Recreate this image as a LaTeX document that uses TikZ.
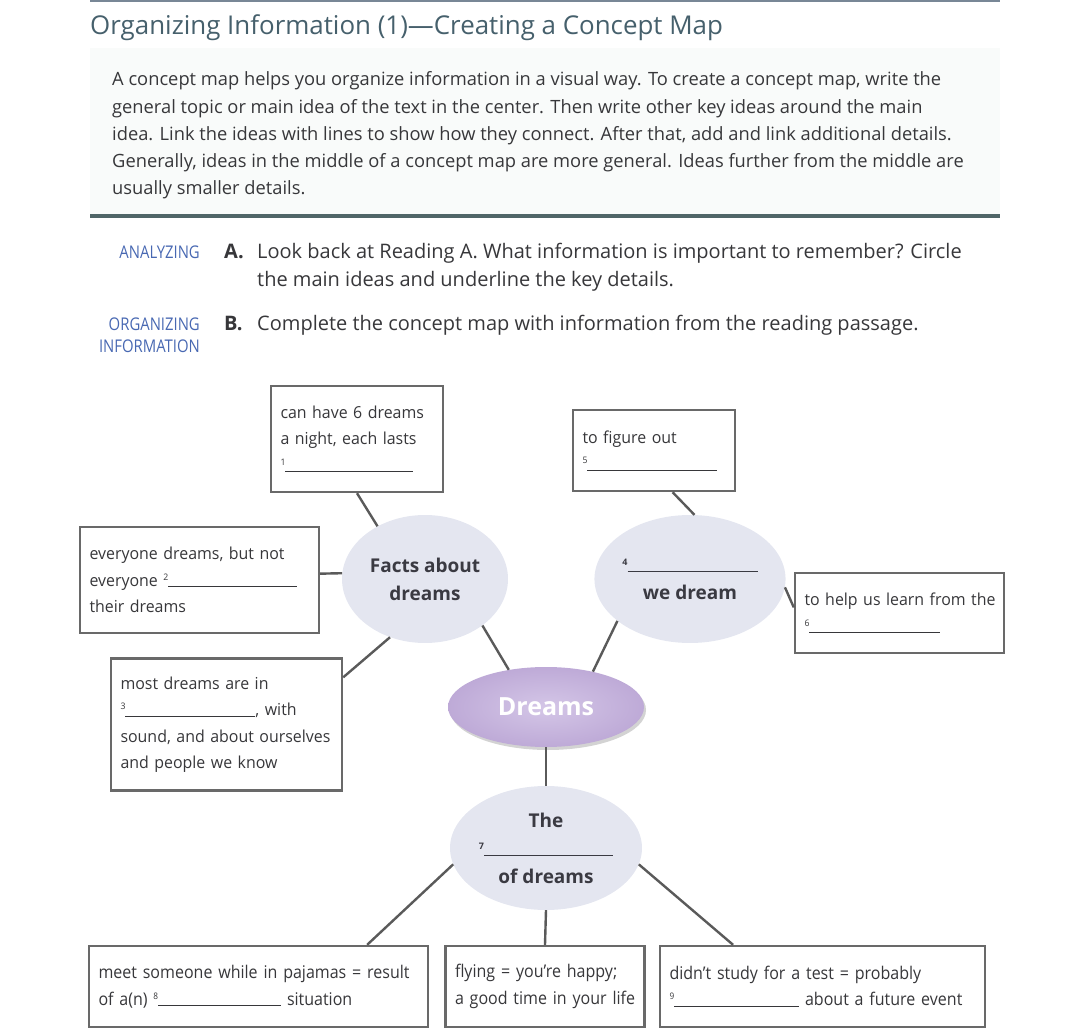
\documentclass[tikz,border=0pt]{standalone}
\usepackage{fontspec}
\setmainfont{Open Sans}
\newfontfamily\boxfont[FakeStretch=0.965]{Open Sans}
\newfontfamily\condfont[FakeStretch=0.915]{Open Sans}
\newfontfamily\capsfont[FakeStretch=0.85]{Open Sans}
\usetikzlibrary{shapes.geometric, shadows, math}
\definecolor{titleteal}{RGB}{70,96,108}
\definecolor{bodygray}{RGB}{55,55,58}
\definecolor{labelblue}{RGB}{72,104,178}
\definecolor{ruleslate}{RGB}{80,102,104}
\definecolor{toprule}{RGB}{120,135,150}
\definecolor{paperbg}{RGB}{249,251,250}
\definecolor{boxgray}{RGB}{105,105,105}
\definecolor{linkgray}{RGB}{90,90,90}
\definecolor{ideablue}{RGB}{228,230,240}
\definecolor{ideatext}{RGB}{58,58,66}
\definecolor{lilacin}{RGB}{212,198,231}
\definecolor{lilacout}{RGB}{190,170,215}

% numbered answer line
\newcommand{\blank}[2]{\raisebox{6pt}{\fontsize{9}{9}\selectfont #1}\rule[-1pt]{#2}{0.9pt}}
% one line that must not break
\newcommand{\oneline}[1]{\mbox{#1}}

\begin{document}
\begin{tikzpicture}[x=1pt, y=-1pt,
  infobox/.style={draw=boxgray, line width=2.4pt, fill=white, inner xsep=9.5pt, inner ysep=0pt,
    align=left, text=bodygray, font=\boxfont\fontsize{16.5}{26.5}\selectfont},
  lowbox/.style={infobox, font=\condfont\fontsize{17.5}{26.5}\selectfont},
  idea/.style={ellipse, fill=ideablue, inner sep=0pt, align=center, text=ideatext,
    font=\bfseries\fontsize{19}{28}\selectfont},
  link/.style={draw=linkgray, line width=2.4pt},
  para/.style={anchor=base west, inner sep=0pt, text=bodygray, font=\fontsize{18.3}{18.3}\selectfont},
  task/.style={anchor=base west, inner sep=0pt, text=bodygray, font=\fontsize{20}{20}\selectfont},
  tag/.style={anchor=base east, inner sep=0pt, text=labelblue, font=\capsfont\fontsize{17.5}{17.5}\selectfont}]
\tikzmath{
\lh=27.25;
\tw=9.5*2;
}
\useasboundingbox (0,0) rectangle (1080,1032);

%the header:
\fill[paperbg] (90,48) rectangle (1000,214);
\draw[toprule, line width=2pt] (90,1) -- (1000,1);
\draw[ruleslate, line width=4pt] (90,216) -- (1000,216);
\node[anchor=base west, inner sep=0pt, text=titleteal, font=\fontsize{25.9}{25.9}\selectfont] (title) at (90,35)
  {Organizing Information (1)—Creating a Concept Map};
\foreach \t [count=\i] in {
  {A concept map helps you organize information in a visual way. To create a concept map, write the},
  {general topic or main idea of the text in the center. Then write other key ideas around the main},
  {idea. Link the ideas with lines to show how they connect. After that, add and link additional details.},
  {Generally, ideas in the middle of a concept map are more general. Ideas further from the middle are},
  {usually smaller details.}}
  \node[para] (p\i) at (112,{86+\lh*(\i-1)}) {\t};

%the tasks:
\node[tag] (tagA) at (200,259) {ANALYZING};
\node[task, font=\bfseries\fontsize{20}{20}\selectfont] (letA) at (224,259) {A.};
\node[task] (taskA1) at (257,259) {Look back at Reading A. What information is important to remember? Circle};
\node[task] (taskA2) at (257,287) {the main ideas and underline the key details.};
\node[tag] (tagB1) at (200,331) {ORGANIZING};
\node[tag] (tagB2) at (200,353) {INFORMATION};
\node[task, font=\bfseries\fontsize{20}{20}\selectfont] (letB) at (224,331) {B.};
\node[task] (taskB) at (257,331) {Complete the concept map with information from the reading passage.};

%the ideas:
\node[idea, minimum width=166pt, minimum height=128pt] (facts) at (425,579) {Facts about\\dreams};
\node[idea, minimum width=166pt, minimum height=128pt] (reason) at (690,579)
  {\blank{4}{130pt}\\we dream};
\node[idea, minimum width=192pt, minimum height=124pt] (meaning) at (546,848)
  {The\\\blank{7}{129pt}\\of dreams};
\node[ellipse, minimum width=196pt, minimum height=80pt, inner color=lilacin, outer color=lilacout,
  drop shadow={opacity=0.35, shadow xshift=2pt, shadow yshift=-3pt}, text=white,
  font=\bfseries\fontsize{25}{25}\selectfont] (dreams) at (546,707) {Dreams};

%the details:
\node[infobox, minimum width=172pt, minimum height=106pt, text width={172-\tw}] (life) at (357,439)
  {\oneline{can have 6 dreams}\\\oneline{a night, each lasts}\\\blank{1}{128pt}};
\node[infobox, minimum width=162pt, minimum height=81pt, text width={162-\tw}] (why) at (654,450.5)
  {to figure out\\\blank{5}{130pt}};
\node[infobox, minimum width=239pt, minimum height=106pt, text width={239-\tw}] (recall) at (199.5,580)
  {\oneline{everyone dreams, but not}\\\oneline{everyone \blank{2}{129pt}}\\their dreams};
\node[infobox, minimum width=231pt, minimum height=132pt, text width={231-\tw}] (color) at (226.5,724.5)
  {most dreams are in\\\oneline{\blank{3}{130pt}, with}\\\oneline{sound, and about ourselves}\\and people we know};
\node[infobox, minimum width=209pt, minimum height=80pt, text width={209-\tw}] (learn) at (899.5,613)
  {\oneline{to help us learn from the}\\\blank{6}{131pt}};
\node[lowbox, minimum width=339pt, minimum height=81pt, text width={339-\tw}] (pajamas) at (258.5,986.5)
  {\oneline{meet someone while in pajamas = result}\\\oneline{of a(n) \blank{8}{123pt} situation}};
\node[lowbox, minimum width=199pt, minimum height=81pt, text width={199-\tw}] (flying) at (545,986.5)
  {\oneline{flying = you’re happy;}\\\oneline{a good time in your life}};
\node[lowbox, minimum width=325pt, minimum height=81pt, text width={325-\tw}] (test) at (822.5,986.5)
  {\oneline{didn’t study for a test = probably}\\\oneline{\blank{9}{125pt} about a future event}};

%links:
\draw[link] (life.south) -- (facts.132);
\draw[link] (why.-66) -- (reason.86);
\draw[link] (recall.3) -- (facts.176);
\draw[link] (color.22) -- (facts.239);
\draw[link] (facts.-39) -- (dreams.135);
\draw[link] (reason.210) -- (dreams.37);
\draw[link] (reason.-5) -- (learn.177);
\draw[link] (dreams.south) -- (meaning.north);
\draw[link] (meaning.190) -- (pajamas.21);
\draw[link] (meaning.south) -- (flying.north);
\draw[link] (meaning.-10) -- (test.155);
\end{tikzpicture}
\end{document}
